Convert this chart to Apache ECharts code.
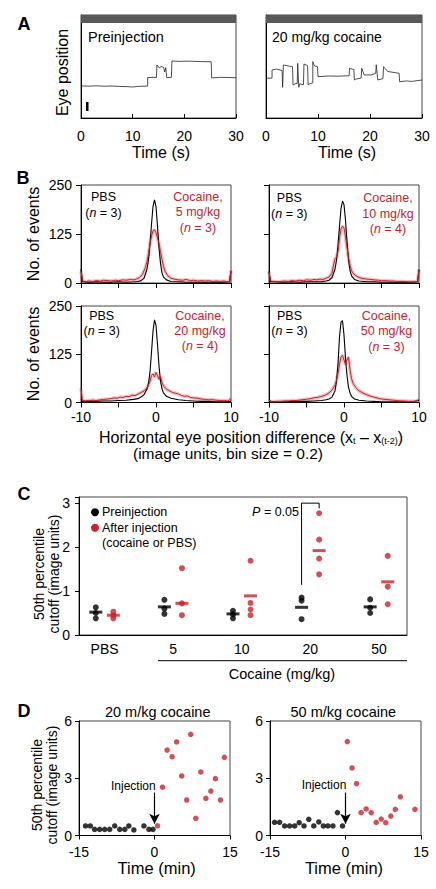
<!DOCTYPE html>
<html><head><meta charset="utf-8">
<script src="https://cdn.jsdelivr.net/npm/echarts@6/dist/echarts.min.js"></script>
<style>html,body{margin:0;padding:0;background:#fff}#c{width:436px;height:889px}</style>
</head><body><div id="c"></div>
<script>
const FONT = "'Liberation Sans', Arial, Helvetica, sans-serif";
const RED = '#cc2229';

// ---------- Panel A: eye position traces (time s, position arbitrary units) ----------
const tracePre = [[0,33.8],[1.5,33.5],[3,33.9],[4.5,33.4],[6,33.7],[7.5,33.2],[9,33.0],[10,32.6],[11,33.3],[12.9,33.6],[12.9,42.5],[14,42.8],[14.6,42.6],[14.7,55.8],[15.2,52.5],[15.5,54.5],[16,53],[16.2,48.4],[16.4,53],[16.6,42.5],[17.5,42.8],[17.6,60],[19,59.6],[21,59.8],[23,59.4],[25.2,59.2],[25.3,42.2],[27,42.8],[30,42.4]];
const traceCoc = [[0,41.8],[1.16,42],[1.16,50.5],[2,51.5],[3.1,50],[3.2,32.3],[3.34,55.8],[4.5,54.5],[5.1,54],[5.2,34.7],[5.8,36.5],[6.0,36],[6.1,57.5],[6.2,57],[6.3,32.3],[6.5,36],[7.2,35],[7.3,56.8],[8.0,55],[8.1,34.7],[8.4,36],[9.0,37],[9.0,59.3],[9.3,55],[9.9,54],[10.0,43.5],[12,44.2],[14,44],[16,44.5],[16.06,52.3],[16.9,51],[17.0,40],[17.3,41],[18.3,42],[18.4,52.3],[18.9,45.3],[20.2,45.3],[21.1,47],[21.2,56],[21.5,40],[22.5,41.5],[22.6,54],[23.4,49],[25.6,47],[25.7,38.2],[27,39],[28,38.5],[30,40]];

// ---------- Panel B: histograms [difference, no. of events] ----------
const bPbs5 = [[-10,36],[-9.8,4],[-9,2],[-8,3],[-7,2],[-6,2],[-5,3],[-4,2],[-3,3],[-2.4,4],[-2,6],[-1.6,12],[-1.2,35],[-1.0,60],[-0.8,100],[-0.6,150],[-0.4,195],[-0.2,212],[0,195],[0.2,145],[0.4,90],[0.6,50],[0.8,26],[1.0,15],[1.4,8],[2,4],[3,3],[4,2],[5,2],[6,2],[7,2],[8,2],[9,2],[9.8,3],[10,30]];
const bCoc5 = [[-10,30],[-9.8,6],[-9.4,3],[-9,5],[-8.4,4],[-8,6],[-7.4,5],[-7,7],[-6.4,6],[-6,5],[-5.4,7],[-5,6],[-4.4,8],[-4,7],[-3.4,9],[-3,8],[-2.6,10],[-2.2,14],[-1.8,22],[-1.4,40],[-1.2,55],[-1.0,75],[-0.8,100],[-0.6,120],[-0.4,133],[-0.2,136],[0,128],[0.2,115],[0.4,100],[0.6,80],[0.8,60],[1.0,42],[1.2,30],[1.6,18],[2.0,12],[2.4,10],[3,8],[3.6,7],[4,9],[4.6,6],[5,7],[5.6,5],[6,6],[6.6,5],[7,6],[7.6,4],[8,5],[8.6,4],[9,5],[9.6,3],[9.8,4],[10,32]];
const bPbs10 = [[-10,30],[-9.8,4],[-9,3],[-8,2],[-7,3],[-6,2],[-5,3],[-4,3],[-3,3],[-2.4,5],[-2,7],[-1.6,14],[-1.2,35],[-1.0,58],[-0.8,95],[-0.6,145],[-0.4,190],[-0.2,209],[0,200],[0.2,160],[0.4,105],[0.6,60],[0.8,32],[1.0,18],[1.4,9],[2,5],[3,3],[4,3],[5,2],[6,2],[7,2],[8,2],[9,2],[9.8,3],[10,34]];
const bCoc10 = [[-10,28],[-9.8,5],[-9.4,4],[-9,3],[-8.4,4],[-8,5],[-7.4,4],[-7,6],[-6.4,5],[-6,7],[-5.4,6],[-5,8],[-4.4,7],[-4,9],[-3.6,8],[-3.2,10],[-2.8,9],[-2.4,12],[-2.0,15],[-1.6,25],[-1.4,45],[-1.2,62],[-1.0,66],[-0.8,80],[-0.6,115],[-0.4,138],[-0.2,145],[0,140],[0.2,118],[0.4,90],[0.6,65],[0.8,45],[1.0,32],[1.2,25],[1.6,18],[2.0,14],[2.4,12],[3,10],[3.6,9],[4,8],[4.6,7],[5,6],[5.6,6],[6,5],[6.6,5],[7,4],[7.6,4],[8,4],[8.6,3],[9,3],[9.6,3],[9.8,4],[10,34]];
const bPbs20 = [[-10,8],[-9.8,3],[-9,3],[-8,3],[-7,4],[-6,4],[-5,5],[-4,6],[-3,8],[-2.4,10],[-2,14],[-1.6,20],[-1.2,35],[-1.0,50],[-0.8,80],[-0.6,130],[-0.4,185],[-0.2,214],[0,200],[0.2,150],[0.4,95],[0.6,55],[0.8,35],[1.0,25],[1.4,16],[2,11],[3,7],[4,5],[5,4],[6,3],[7,3],[8,2],[9,2],[10,3]];
const bCoc20 = [[-10,36],[-9.8,5],[-9.4,4],[-9,5],[-8.4,6],[-8,5],[-7.4,7],[-7,8],[-6.4,9],[-6,10],[-5.6,12],[-5.2,11],[-4.8,14],[-4.4,13],[-4,16],[-3.6,15],[-3.2,19],[-2.8,18],[-2.4,22],[-2,26],[-1.6,30],[-1.2,38],[-1.0,45],[-0.8,55],[-0.6,70],[-0.4,74],[-0.2,66],[0,78],[0.2,70],[0.4,60],[0.6,68],[0.8,52],[1.0,42],[1.4,35],[1.8,30],[2.2,26],[2.6,24],[3,22],[3.4,18],[3.8,16],[4.2,17],[4.6,13],[5,12],[5.6,11],[6,9],[6.6,8],[7,7],[7.6,7],[8,6],[8.6,5],[9,5],[9.6,4],[10,10]];
const bPbs50 = [[-10,8],[-9.8,3],[-9,2],[-8,2],[-7,3],[-6,3],[-5,3],[-4,4],[-3,5],[-2.4,7],[-2,9],[-1.6,14],[-1.2,30],[-1.0,55],[-0.8,100],[-0.6,170],[-0.4,208],[-0.2,212],[0,175],[0.2,115],[0.4,70],[0.6,40],[0.8,25],[1.0,16],[1.4,9],[2,6],[3,4],[4,3],[5,2],[6,2],[7,2],[8,2],[9,2],[10,5]];
const bCoc50 = [[-10,6],[-9.8,3],[-9.4,2],[-9,3],[-8.4,3],[-8,4],[-7.4,4],[-7,5],[-6.4,5],[-6,6],[-5.6,7],[-5.2,8],[-4.8,9],[-4.4,10],[-4,12],[-3.6,13],[-3.2,15],[-2.8,17],[-2.4,20],[-2,25],[-1.6,32],[-1.2,45],[-1.0,58],[-0.8,75],[-0.6,100],[-0.4,118],[-0.2,122],[0,110],[0.2,98],[0.4,110],[0.6,118],[0.8,85],[1.0,62],[1.2,50],[1.6,38],[2.0,30],[2.4,26],[2.8,22],[3.2,19],[3.6,16],[4,14],[4.6,11],[5,9],[5.6,8],[6,7],[6.6,6],[7,5],[7.6,4],[8,4],[8.6,3],[9,3],[9.6,3],[10,8]];
const bLabels = [['5 mg/kg','(n = 3)','(n = 3)'],['10 mg/kg','(n = 3)','(n = 4)'],['20 mg/kg','(n = 3)','(n = 4)'],['50 mg/kg','(n = 3)','(n = 3)']];
const bXLabels = [-10, 0, 10];

// ---------- Panel C: 50th percentile cutoff ----------
const cGroups = ['PBS','5','10','20','50'];
const cPre  = [[0.63,0.50,0.38],[0.80,0.60,0.48],[0.55,0.47,0.38],[0.85,0.78,0.36],[0.81,0.62,0.50]];
const cPost = [[0.53,0.45,0.38],[1.52,0.72,0.45],[1.69,0.73,0.58,0.45],[2.77,2.17,1.74,1.38],[1.80,1.10,0.70]];
const cPreBar  = [0.52,0.64,0.48,0.63,0.64];
const cPostBar = [0.45,0.72,0.89,1.92,1.21];
const cYTicks = [0,1,2,3];

// ---------- Panel D: cutoff over time [min, image units] ----------
const dPre20  = [[-13.7,0.50],[-12.75,0.50],[-11.9,0.32],[-10.9,0.32],[-9.9,0.32],[-8.9,0.32],[-7.9,0.50],[-6.9,0.32],[-5.9,0.32],[-5.1,0.50],[-4.1,0.29],[-2.1,0.50],[-1.1,0.32],[-0.3,0.32]];
const dPost20 = [[0.6,0.51],[1.6,2.53],[2.5,4.48],[3.5,4.13],[4.4,4.90],[5.4,3.12],[6.4,1.86],[7.2,5.30],[8.2,0.90],[9.2,3.33],[10.2,1.95],[11.2,2.33],[12.1,2.98],[13.1,1.86],[13.9,4.10]];
const dPre50  = [[-14.1,0.69],[-13.1,0.69],[-12.1,0.50],[-11.1,0.50],[-10.1,0.50],[-9.2,0.67],[-8.25,0.50],[-7.3,0.85],[-6.3,0.50],[-5.3,0.71],[-4.4,0.50],[-3.5,0.50],[-2.5,0.50],[-1.6,1.20],[-0.6,0.50]];
const dPost50 = [[0.36,4.92],[1.3,3.54],[2.2,2.72],[3.1,1.20],[4.1,1.39],[5.1,1.20],[6.1,0.69],[7.1,0.86],[8.0,0.67],[9.0,1.02],[9.9,1.37],[10.9,2.03],[13.8,1.37]];
const dInjection = 0;

// ---------- layout ----------
function merge(a, b) {
  const out = Array.isArray(a) ? a.slice() : Object.assign({}, a);
  for (const k in b) {
    if (b[k] && typeof b[k] === 'object' && !Array.isArray(b[k]) && typeof b[k] !== 'function' && a && typeof a[k] === 'object' && !Array.isArray(a[k])) out[k] = merge(a[k], b[k]);
    else out[k] = b[k];
  }
  return out;
}
const baseAxis = {
  type:'value',
  axisLine:{show:true, onZero:false, lineStyle:{color:'#000', width:1}},
  axisTick:{show:true, inside:false, length:5, lineStyle:{color:'#000', width:1}},
  axisLabel:{show:true, color:'#000', fontSize:14, fontFamily:FONT, margin:8},
  splitLine:{show:false}
};
const ax = (gridIndex, o) => merge(merge(baseAxis, {gridIndex}), o || {});

const grids = [
  {left:81, top:15, width:155, height:103},
  {left:266, top:15, width:156, height:103},
  {left:81, top:185, width:150, height:98},
  {left:269, top:185, width:150, height:98},
  {left:81, top:306, width:150, height:96.5},
  {left:269, top:306, width:150, height:96.5},
  {left:79, top:497, width:328, height:138},
  {left:79, top:721, width:151, height:114.5},
  {left:270, top:721, width:151, height:114.5}
].map(g => Object.assign({show:true, borderColor:'#444', borderWidth:1, backgroundColor:'transparent'}, g));

const xAxes = [], yAxes = [];
[0,1].forEach(i => {
  xAxes.push(ax(i, {min:0, max:30, interval:10, axisTick:{inside:true, length:4}, axisLabel:{margin:11}}));
  yAxes.push(ax(i, {min:0, max:108.4, axisTick:{show:false}, axisLabel:{show:false}}));
});
[2,3,4,5].forEach(i => {
  xAxes.push(ax(i, {min:-10, max:10, interval:5, axisLabel:{show:i>=4, margin:7, formatter:v => bXLabels.includes(v) ? String(v) : ''}}));
  yAxes.push(ax(i, {min:0, max:250, interval:125, axisLabel:{show:i===2||i===4, margin:9}}));
});
const C_OFF = 0.128;
xAxes.push(ax(6, {min:-0.373, max:4.409, axisTick:{show:false}, axisLabel:{customValues:[0,1,2,3,4], formatter:v => cGroups[Math.round(v)], margin:7}}));
yAxes.push(ax(6, {min:0, max:3.14, interval:1, axisTick:{length:4}, axisLabel:{margin:9, formatter:v => cYTicks.includes(v) ? String(v) : ''}}));
[7,8].forEach(i => {
  xAxes.push(ax(i, {min:-15, max:15, interval:15, axisTick:{length:4}, axisLabel:{margin:9}}));
  yAxes.push(ax(i, {min:0, max:6, interval:3, axisTick:{length:4}, axisLabel:{margin:7}}));
});

const series = [];
const grayBar = {silent:true, itemStyle:{color:'#585858'}, data:[[{yAxis:100},{yAxis:108.4}]]};
series.push({type:'line', xAxisIndex:0, yAxisIndex:0, data:tracePre, showSymbol:false, silent:true, lineStyle:{color:'#222', width:0.8}, markArea:grayBar});
series.push({type:'line', xAxisIndex:1, yAxisIndex:1, data:traceCoc, showSymbol:false, silent:true, lineStyle:{color:'#222', width:0.8}, markArea:grayBar});

[[bPbs5,bCoc5],[bPbs10,bCoc10],[bPbs20,bCoc20],[bPbs50,bCoc50]].forEach(([p,c],k) => {
  const i = 2 + k;
  series.push({type:'line', xAxisIndex:i, yAxisIndex:i, data:c, showSymbol:false, silent:true, lineStyle:{color:'rgba(204,34,41,0.28)', width:3.5}});
  series.push({type:'line', xAxisIndex:i, yAxisIndex:i, data:p, showSymbol:false, silent:true, lineStyle:{color:'#000', width:1.1}});
  series.push({type:'line', xAxisIndex:i, yAxisIndex:i, data:c, showSymbol:false, silent:true, lineStyle:{color:RED, width:1}});
});

const cPreDots = cPre.flatMap((vals,i) => vals.map(v => [i - C_OFF, v]));
const cPostDots = cPost.flatMap((vals,i) => vals.map(v => [i + C_OFF, v]));
series.push({type:'scatter', xAxisIndex:6, yAxisIndex:6, data:cPreDots, symbol:'circle', symbolSize:6, itemStyle:{color:'#000'}, silent:true});
series.push({type:'scatter', xAxisIndex:6, yAxisIndex:6, data:cPostDots, symbol:'circle', symbolSize:6, itemStyle:{color:RED}, silent:true});
series.push({type:'scatter', xAxisIndex:6, yAxisIndex:6, data:cPreBar.map((v,i) => [i - C_OFF, v]), symbol:'rect', symbolSize:[13,3], itemStyle:{color:'#000'}, silent:true});
series.push({type:'scatter', xAxisIndex:6, yAxisIndex:6, data:cPostBar.map((v,i) => [i + C_OFF, v]), symbol:'rect', symbolSize:[13,3], itemStyle:{color:RED}, silent:true});
series.push({type:'line', xAxisIndex:6, yAxisIndex:6, data:[[3 - C_OFF,1.14],[3 - C_OFF,3.0],[3 + C_OFF,3.0],[3 + C_OFF,2.88]], showSymbol:false, silent:true, lineStyle:{color:'#000', width:1}});

function arrow() {
  return {silent:true, symbol:['none','arrow'], symbolSize:[8,10], lineStyle:{color:'#000', width:1.2, type:'solid'}, label:{show:false},
    data:[[{coord:[dInjection,2.25]},{coord:[dInjection,0.62]}]]};
}
series.push({type:'scatter', xAxisIndex:7, yAxisIndex:7, data:dPre20, symbolSize:5.5, itemStyle:{color:'#000'}, silent:true, markLine:arrow()});
series.push({type:'scatter', xAxisIndex:7, yAxisIndex:7, data:dPost20, symbolSize:5.5, itemStyle:{color:RED}, silent:true});
series.push({type:'scatter', xAxisIndex:8, yAxisIndex:8, data:dPre50, symbolSize:5.5, itemStyle:{color:'#000'}, silent:true, markLine:arrow()});
series.push({type:'scatter', xAxisIndex:8, yAxisIndex:8, data:dPost50, symbolSize:5.5, itemStyle:{color:RED}, silent:true});

// ---------- text ----------
function T(text, x, y, o) {
  o = o || {};
  const st = {text, fill:o.color || '#000', fontSize:o.size || 14, fontFamily:FONT, fontWeight:o.weight || 'normal',
    textAlign:o.align || 'center', textVerticalAlign:'middle'};
  if (o.rich) st.rich = o.rich;
  if (o.lineHeight) st.lineHeight = o.lineHeight;
  return {type:'text', x, y, rotation:o.rot || 0, silent:true, style:st, z:100};
}
const rich = (color, size) => ({
  i:{fontStyle:'italic', fill:color, fontSize:size, fontFamily:FONT},
  sub:{fill:color, fontSize:9, fontFamily:FONT, verticalAlign:'bottom', padding:[6,0,0,0]}
});
const nTxt = s => s.replace('(n', '({i|n}');
const G = [];
G.push(T('A', 24, 24, {size:18, weight:'bold'}));
G.push(T('B', 23, 178, {size:18, weight:'bold'}));
G.push(T('C', 24, 494, {size:18, weight:'bold'}));
G.push(T('D', 24, 711, {size:18, weight:'bold'}));
// A
G.push(T('Preinjection', 88, 37, {size:14.5, align:'left'}));
G.push(T('20 mg/kg cocaine', 272, 37, {size:14, align:'left'}));
G.push(T('Eye position', 62.5, 72.5, {size:16, rot:Math.PI/2}));
G.push(T('Time (s)', 161, 152, {size:16}));
G.push(T('Time (s)', 347, 152, {size:16}));
G.push({type:'rect', shape:{x:86, y:102, width:2.5, height:9}, style:{fill:'#000'}, silent:true});
// B
const bPos = [
  {px:103.5, py:[196.5,212.5], rx:198, ry:[196.5,212,227.5]},
  {px:289.3, py:[198,213.5], rx:388, ry:[198,213.5,229]},
  {px:101.7, py:[315.7,330.5], rx:200, ry:[316,331,345.5]},
  {px:289.5, py:[315.7,330.5], rx:386.5, ry:[315.7,331.3,346.7]}
];
bPos.forEach((p,k) => {
  G.push(T('PBS', p.px, p.py[0], {size:12.5}));
  G.push(T(nTxt(bLabels[k][1]), p.px, p.py[1], {size:12.5, rich:rich('#000',12.5)}));
  G.push(T('Cocaine,', p.rx, p.ry[0], {size:12.5, color:RED}));
  G.push(T(bLabels[k][0], p.rx, p.ry[1], {size:12.5, color:RED}));
  G.push(T(nTxt(bLabels[k][2]), p.rx, p.ry[2], {size:12.5, color:RED, rich:rich(RED,12.5)}));
});
G.push(T('No. of events', 33, 234, {size:16, rot:Math.PI/2}));
G.push(T('No. of events', 33, 354, {size:16, rot:Math.PI/2}));
G.push(T('Horizontal eye position difference (x{sub|t} – x{sub|(t-2)})', 99, 437, {size:16, align:'left', rich:rich('#000',16)}));
G.push(T('(image units, bin size = 0.2)', 133, 453.5, {size:15.5, align:'left'}));
// C
G.push({type:'circle', shape:{cx:95, cy:512.3, r:4}, style:{fill:'#000'}, silent:true});
G.push({type:'circle', shape:{cx:95, cy:527.7, r:4}, style:{fill:RED}, silent:true});
G.push(T('Preinjection', 102, 512.3, {size:12.5, align:'left'}));
G.push(T('After injection', 102, 527.7, {size:12.5, align:'left'}));
G.push(T('(cocaine or PBS)', 102, 542.7, {size:12.5, align:'left'}));
G.push(T('{i|P} = 0.05', 299, 511.7, {size:12.5, align:'right', rich:rich('#000',12.5)}));
G.push({type:'line', shape:{x1:158, y1:660.7, x2:407, y2:660.7}, style:{stroke:'#000', lineWidth:1}, silent:true});
G.push(T('Cocaine (mg/kg)', 282, 674, {size:14.5}));
G.push(T('50th percentile\ncutoff (image units)', 46, 574, {size:14, rot:Math.PI/2, lineHeight:15}));
// D
G.push(T('20 m/kg cocaine', 157.7, 711.7, {size:14.5}));
G.push(T('50 m/kg cocaine', 343.3, 711.7, {size:14.5}));
G.push(T('Time (min)', 156.7, 868, {size:16.5}));
G.push(T('Time (min)', 344, 868, {size:16.5}));
G.push(T('Injection', 133.3, 786, {size:12}));
G.push(T('Injection', 324, 785, {size:12}));
G.push(T('50th percentile\ncutoff (image units)', 44, 785, {size:14, rot:Math.PI/2, lineHeight:15}));

const chart = echarts.init(document.getElementById('c'), null, {renderer:'svg', width:436, height:889});
chart.setOption({
  animation:false,
  backgroundColor:'#fff',
  textStyle:{fontFamily:FONT},
  grid:grids, xAxis:xAxes, yAxis:yAxes, series,
  graphic:{elements:G}
});
</script></body></html>
